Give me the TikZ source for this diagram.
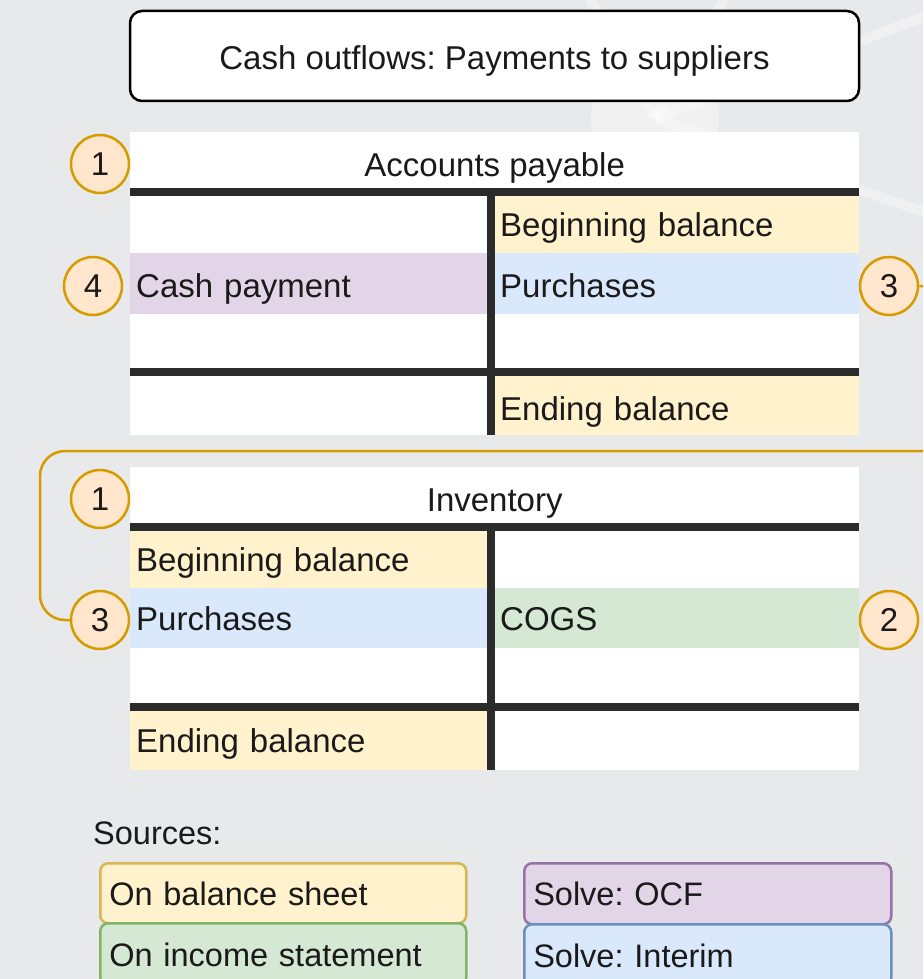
\documentclass[tikz,border=0pt]{standalone}
\usepackage{fontspec}
\setmainfont{Liberation Sans}
\frenchspacing
\definecolor{bgc}{HTML}{E8E9EB}
\definecolor{txtc}{HTML}{1A1A1A}
\definecolor{linec}{HTML}{2B2B2B}
\definecolor{yelf}{HTML}{FFF2CC}
\definecolor{yeld}{HTML}{D6B656}
\definecolor{grnf}{HTML}{D5E8D4}
\definecolor{grnd}{HTML}{82B366}
\definecolor{purf}{HTML}{E1D5E7}
\definecolor{purd}{HTML}{9673A6}
\definecolor{bluf}{HTML}{DAE8FC}
\definecolor{blud}{HTML}{6C8EBF}
\definecolor{orgf}{HTML}{FFE6CC}
\definecolor{orgd}{HTML}{D79B00}
\begin{document}
\begin{tikzpicture}[x=1pt,y=-1pt,
  txt/.style={text=txtc, font=\fontsize{33}{40}\selectfont, text height=23.6pt, text depth=0pt},
  low/.style={text height=27.6pt},
  hdr/.style={txt, fill=white, inner sep=0pt, minimum width=729pt, minimum height=64pt, anchor=north west},
  lcell/.style={txt, inner sep=0pt, inner xsep=6pt, text width=349pt, align=left, anchor=north west, minimum height=#1},
  rcell/.style={txt, inner sep=0pt, inner xsep=9pt, text width=350pt, align=left, anchor=north west, minimum height=#1},
  tline/.style={linec, line width=8pt},
  num/.style={txt, circle, draw=orgd, fill=orgf, line width=2.5pt, minimum size=58pt, inner sep=0pt},
  conn/.style={orgd, line width=2.5pt, rounded corners=25pt},
  legbox/.style={txt, font=\fontsize{32.5}{40}\selectfont, rounded corners=8pt, line width=2.5pt, inner sep=0pt, inner xsep=9pt, text width=348pt, align=left, anchor=north west, minimum height=#1},
  decor/.style={white, opacity=0.35, line width=10pt}
]
% background
\fill[bgc] (0,0) rectangle (923,979);
\clip (0,0) rectangle (923,979);
\useasboundingbox (0,0) rectangle (923,979);
\fill[white, opacity=0.35] (655,118) circle (64pt);
\draw[decor] (655,118) -- (990,-8);
\draw[decor] (655,118) -- (990,235);
\draw[decor] (655,118) -- (585,-10);
\draw[decor] (655,118) -- (730,-10);

% title
\node[txt, low, draw=black, fill=white, line width=2.5pt, rounded corners=12pt, minimum width=729pt, minimum height=90pt, inner sep=0pt] (title) at (494.5,56) {Cash outflows: Payments to suppliers};

% ---------- Accounts payable ----------
\node[hdr] (aph) at (130,132) {Accounts payable};
\node[lcell=57pt, fill=white] (apl1) at (130,196) {};
\node[rcell=57pt, fill=yelf] (apr1) at (491,196) {Beginning balance};
\node[lcell=61pt, fill=purf, low] (apl2) at (130,253) {Cash payment};
\node[rcell=61pt, fill=bluf, low] (apr2) at (491,253) {Purchases};
\node[lcell=58pt, fill=white] (apl3) at (130,314) {};
\node[rcell=58pt, fill=white] (apr3) at (491,314) {};
\node[lcell=63pt, fill=white] (apl4) at (130,372) {};
\node[rcell=59pt, fill=yelf, text height=28.6pt] (apr4) at (491,376) {Ending balance};
\draw[tline] (130,192) -- (859,192);
\draw[tline] (130,372) -- (859,372);
\draw[tline] (491,192) -- (491,435);

% ---------- Inventory ----------
\node[hdr] (invh) at (130,467) {Inventory};
\node[lcell=57pt, fill=yelf] (invl1) at (130,531) {Beginning balance};
\node[rcell=57pt, fill=white] (invr1) at (491,531) {};
\node[lcell=60pt, fill=bluf] (invl2) at (130,588) {Purchases};
\node[rcell=60pt, fill=grnf] (invr2) at (491,588) {COGS};
\node[lcell=60pt, fill=white] (invl3) at (130,648) {};
\node[rcell=60pt, fill=white] (invr3) at (491,648) {};
\node[lcell=59pt, fill=yelf] (invl4) at (130,711) {Ending balance};
\node[rcell=59pt, fill=white] (invr4) at (491,711) {};
\draw[tline] (130,527) -- (859,527);
\draw[tline] (130,707) -- (859,707);
\draw[tline] (491,527) -- (491,770);

% ---------- step circles ----------
\node[num] (ap1) at (100,164) {1};
\node[num] (ap4) at (93,286) {4};
\node[num] (ap3) at (889,286) {3};
\node[num] (inv1) at (100,499) {1};
\node[num] (inv3) at (100,620) {3};
\node[num] (inv2) at (889,620) {2};

% connector
\coordinate (k1) at (965,286);
\coordinate (k2) at (965,451);
\coordinate (k3) at (40,451);
\coordinate (k4) at (40,620);
\draw[conn] (ap3.east) -- (k1) -- (k2) -- (k3) -- (k4) -- (inv3.west);

% ---------- legend ----------
\node[txt, font=\fontsize{32.5}{40}\selectfont, anchor=west, inner sep=0pt] (src) at (93,833) {Sources:};
\node[legbox=60pt, draw=yeld, fill=yelf] (lg1) at (99,862) {On balance sheet};
\node[legbox=62pt, draw=grnd, fill=grnf] (lg2) at (99,922) {On income statement};
\node[legbox=61pt, draw=purd, fill=purf, text width=349pt] (lg3) at (523,862) {Solve: OCF};
\node[legbox=62pt, draw=blud, fill=bluf, text width=349pt] (lg4) at (523,923) {Solve: Interim};
\end{tikzpicture}
\end{document}
